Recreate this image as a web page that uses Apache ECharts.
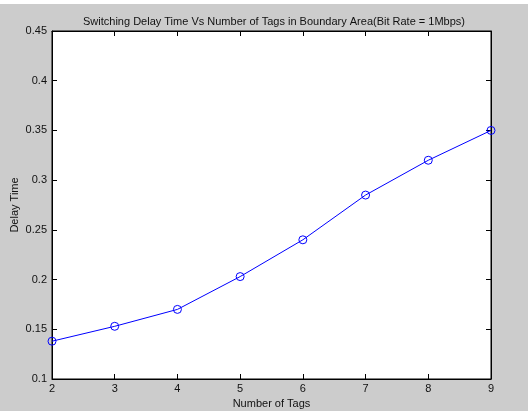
<!DOCTYPE html>
<html>
<head>
<meta charset="utf-8">
<script src="https://cdn.jsdelivr.net/npm/echarts@6/dist/echarts.min.js"></script>
<style>
html,body{margin:0;padding:0;background:#ffffff;}
#wrap{position:absolute;left:0;top:4px;width:528px;height:407px;background:#cccccc;}
#chart{position:absolute;left:0;top:0;width:528px;height:411px;}
</style>
</head>
<body>
<div id="wrap"></div>
<div id="chart"></div>
<script>
const titleText = 'Switching Delay Time Vs Number of Tags in Boundary Area(Bit Rate = 1Mbps)';
const xName = 'Number of Tags';
const yName = 'Delay Time';
const tags = [2, 3, 4, 5, 6, 7, 8, 9];
const delayTime = [0.138, 0.153, 0.170, 0.203, 0.240, 0.285, 0.320, 0.350];

const font = 'Liberation Sans, Arial, sans-serif';
const chart = echarts.init(document.getElementById('chart'), null, {renderer: 'canvas'});
const axisCommon = {
  axisLine: {show: true, lineStyle: {color: '#000', width: 1}},
  axisTick: {show: true, inside: true, length: 5, lineStyle: {color: '#000'}},
  splitLine: {show: false}
};
chart.setOption({
  backgroundColor: 'transparent',
  animation: false,
  title: {
    text: titleText, left: 78, top: 11,
    textStyle: {fontFamily: font, fontSize: 11, fontWeight: 'normal', color: '#111'}
  },
  grid: {left: 52, right: 37, top: 31, bottom: 32, containLabel: false, outerBoundsMode: 'none',
    show: true, backgroundColor: '#fff', borderColor: '#000', borderWidth: 1},
  xAxis: [
    Object.assign({
      type: 'value', min: 2, max: 9, interval: 1, position: 'bottom',
      name: xName, nameLocation: 'middle', nameGap: 19, nameMoveOverlap: false,
      nameTextStyle: {fontFamily: font, fontSize: 11, color: '#111'},
      axisLabel: {fontFamily: font, fontSize: 11, color: '#111', margin: 4}
    }, axisCommon),
    Object.assign({
      type: 'value', min: 2, max: 9, interval: 1, position: 'top',
      axisLabel: {show: false}
    }, axisCommon)
  ],
  yAxis: [
    Object.assign({
      type: 'value', min: 0.1, max: 0.45, interval: 0.05, position: 'left',
      name: yName, nameLocation: 'middle', nameGap: 32, nameMoveOverlap: false,
      nameTextStyle: {fontFamily: font, fontSize: 11, color: '#111'},
      axisLabel: {fontFamily: font, fontSize: 11, color: '#111', margin: 5,
        formatter: v => String(+v.toFixed(2))}
    }, axisCommon),
    Object.assign({
      type: 'value', min: 0.1, max: 0.45, interval: 0.05, position: 'right',
      axisLabel: {show: false}
    }, axisCommon)
  ],
  series: [{
    type: 'line',
    data: tags.map((t, i) => [t, delayTime[i]]),
    symbol: 'circle', symbolSize: 8, showSymbol: true,
    itemStyle: {color: '#ffffff00', borderColor: '#0000ff', borderWidth: 1},
    lineStyle: {color: '#0000ff', width: 1},
    clip: false
  }]
});
</script>
</body>
</html>
